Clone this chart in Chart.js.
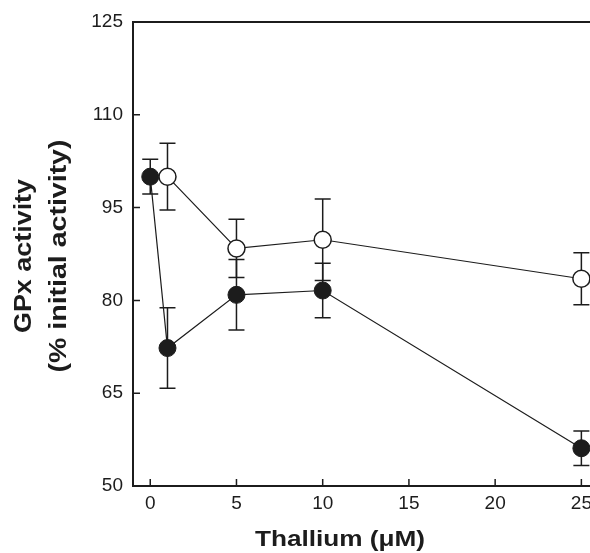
<!DOCTYPE html>
<html>
<head>
<meta charset="utf-8">
<script src="https://cdn.jsdelivr.net/npm/chart.js@4.4.0/dist/chart.umd.min.js"></script>
<style>
  html, body { margin: 0; padding: 0; background: #fff; }
  #wrap { width: 590px; height: 553px; }
</style>
</head>
<body>
<div id="wrap"><canvas id="myChart" width="590" height="553"></canvas></div>
<script>
// data
var filledX = [0, 1, 5, 10, 25];
var filledY = [100, 72.3, 80.9, 81.6, 56.1];
var filledErr = [2.8, 6.5, 5.7, 4.4, 2.8];

var openX = [1, 5, 10, 25];
var openY = [100, 88.4, 89.8, 83.5];
var openErr = [5.4, 4.7, 6.6, 4.2];

var xTicks = [0, 5, 10, 15, 20, 25];
var yTicks = [50, 65, 80, 95, 110, 125];

var ink = '#1c1c1c';

function pts(xs, ys) {
    return xs.map(function(x, i) { return { x: x, y: ys[i] }; });
}

// error bars behind the markers, inward ticks, axis titles
var extras = {
    id: 'extras',
    beforeDatasetsDraw: function(chart) {
        var c = chart.ctx, xs = chart.scales.x, ys = chart.scales.y;
        c.save();
        c.strokeStyle = ink;
        c.lineWidth = 1.5;
        var sets = [[filledX, filledY, filledErr], [openX, openY, openErr]];
        sets.forEach(function(s) {
            s[0].forEach(function(xv, i) {
                var px = xs.getPixelForValue(xv);
                var top = ys.getPixelForValue(s[1][i] + s[2][i]);
                var bot = ys.getPixelForValue(s[1][i] - s[2][i]);
                c.beginPath();
                c.moveTo(px, top); c.lineTo(px, bot);
                c.moveTo(px - 8, top); c.lineTo(px + 8, top);
                c.moveTo(px - 8, bot); c.lineTo(px + 8, bot);
                c.stroke();
            });
        });
        c.restore();
    },
    afterDraw: function(chart) {
        var c = chart.ctx, xs = chart.scales.x, ys = chart.scales.y, a = chart.chartArea;
        c.save();
        c.strokeStyle = ink;
        c.lineWidth = 1.5;
        c.beginPath();
        yTicks.forEach(function(v) {
            var py = ys.getPixelForValue(v);
            c.moveTo(a.left, py); c.lineTo(a.left + 7, py);
        });
        xTicks.forEach(function(v) {
            var px = xs.getPixelForValue(v);
            c.moveTo(px, a.bottom); c.lineTo(px, a.bottom - 7);
        });
        c.stroke();
        // top frame line
        c.lineWidth = 2;
        c.beginPath();
        c.moveTo(a.left, a.top); c.lineTo(a.right, a.top);
        c.stroke();

        c.fillStyle = ink;
        c.textAlign = 'center';
        c.textBaseline = 'middle';
        c.font = 'bold 22px "Liberation Sans", Arial, sans-serif';
        c.save();
        c.translate(340, 540);
        c.scale(1.19, 1);
        c.fillText('Thallium (\u03bcM)', 0, 0);
        c.restore();

        c.font = 'bold 23px "Liberation Sans", Arial, sans-serif';
        c.save();
        c.translate(25, 256);
        c.rotate(-Math.PI / 2);
        c.scale(1.17, 1);
        c.fillText('GPx activity', 0, 0);
        c.restore();
        c.save();
        c.translate(60, 256);
        c.rotate(-Math.PI / 2);
        c.scale(1.24, 1);
        c.fillText('(% initial activity)', 0, 0);
        c.restore();
        c.restore();
    }
};

var ctx = document.getElementById('myChart').getContext('2d');
var chart = new Chart(ctx, {
    type: 'scatter',
    data: {
        datasets: [{
            label: 'filled',
            data: pts(filledX, filledY),
            showLine: true,
            borderColor: ink,
            borderWidth: 1.2,
            pointRadius: 8.5,
            pointBackgroundColor: ink,
            pointBorderColor: ink,
            pointBorderWidth: 1
        }, {
            label: 'open',
            data: pts(openX, openY),
            showLine: true,
            borderColor: ink,
            borderWidth: 1.2,
            pointRadius: 8.5,
            pointBackgroundColor: '#ffffff',
            pointBorderColor: ink,
            pointBorderWidth: 1.5
        }]
    },
    options: {
        responsive: false,
        animation: false,
        events: [],
        layout: { autoPadding: false, padding: { top: 22, right: 0, bottom: 0, left: 0 } },
        plugins: { legend: { display: false }, tooltip: { enabled: false } },
        scales: {
            x: {
                type: 'linear',
                min: -1,
                max: 25.5,
                afterBuildTicks: function(scale) {
                    scale.ticks = xTicks.map(function(v) { return { value: v }; });
                },
                afterFit: function(scale) {
                    scale.height = 67;
                    scale.paddingLeft = 0;
                    scale.paddingRight = 0;
                },
                grid: { display: false, drawTicks: false },
                border: { display: true, color: ink, width: 2 },
                ticks: {
                    padding: 6,
                    color: ink,
                    maxRotation: 0,
                    font: { family: '"Liberation Sans", Arial, sans-serif', size: 19 }
                }
            },
            y: {
                min: 50,
                max: 125,
                afterBuildTicks: function(scale) {
                    scale.ticks = yTicks.map(function(v) { return { value: v }; });
                },
                afterFit: function(scale) {
                    scale.width = 133;
                    scale.paddingTop = 0;
                    scale.paddingBottom = 0;
                },
                grid: { display: false, drawTicks: false },
                border: { display: true, color: ink, width: 2 },
                ticks: {
                    padding: 10,
                    color: ink,
                    font: { family: '"Liberation Sans", Arial, sans-serif', size: 19 }
                }
            }
        }
    },
    plugins: [extras]
});
</script>
</body>
</html>
